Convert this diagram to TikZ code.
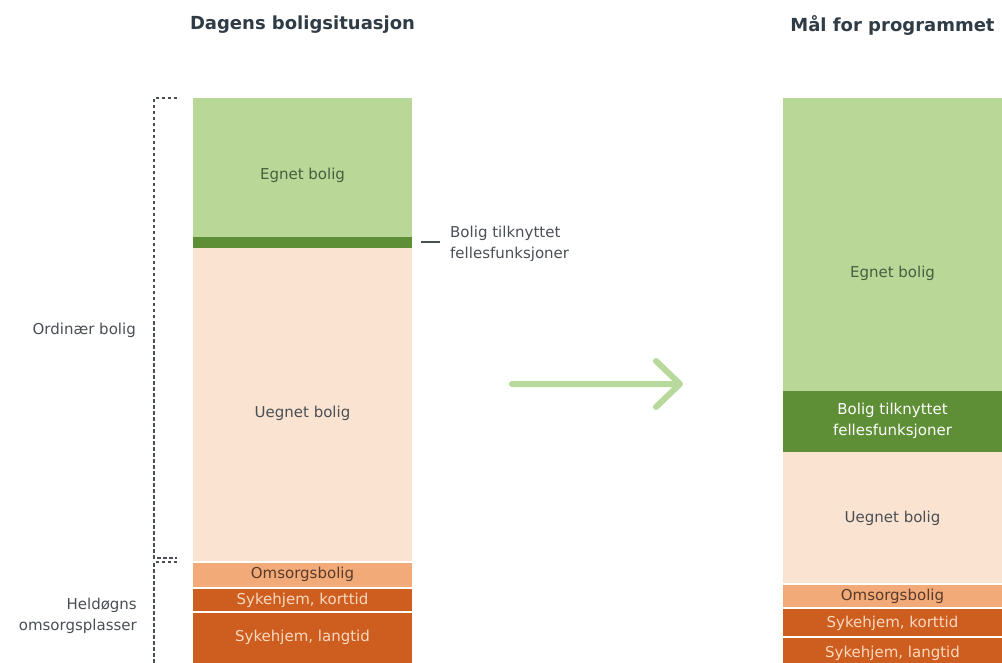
\documentclass[tikz,border=0pt]{standalone}
\usepackage{fontspec}
\setmainfont{DejaVu Sans}
\definecolor{lgreen}{HTML}{B9D897}
\definecolor{dgreen}{HTML}{5E8F36}
\definecolor{peach}{HTML}{FBE3D1}
\definecolor{lorange}{HTML}{F2AB78}
\definecolor{dorange}{HTML}{CE5E1F}
\definecolor{txtgrey}{HTML}{4A4F55}
\definecolor{txtgreen}{HTML}{44603F}
\definecolor{txtbrown}{HTML}{5A3A2A}
\definecolor{ttlgrey}{HTML}{2F3B45}
\definecolor{lpeach}{HTML}{FCD8BF}
\definecolor{arrgreen}{HTML}{B7D99B}
\begin{document}
\begin{tikzpicture}[x=1pt,y=-1pt,
  seglbl/.style={font=\fontsize{15}{20.5}\selectfont,align=center,inner sep=0pt},
  ttl/.style={font=\fontsize{18}{22}\selectfont\bfseries,text=ttlgrey,inner sep=0pt},
  sidelbl/.style={font=\fontsize{15}{21}\selectfont,text=txtgrey,inner sep=0pt},
  brk/.style={draw=txtgrey,line width=1.1pt,dash pattern=on 3.5pt off 2.5pt}]
\useasboundingbox (0,0) rectangle (1002,663);
\pgfmathsetmacro{\kxl}{193}
\pgfmathsetmacro{\kxr}{783}
\pgfmathsetmacro{\kw}{219}
\begin{scope}
\clip (0,0) rectangle (1002,663);
% left column, today
\foreach \ya/\yb/\ylb/\fc/\tc/\lb [count=\i] in {98/237/175/lgreen/txtgreen/{Egnet bolig},248/561/413/peach/txtgrey/{Uegnet bolig},562.5/587/574/lorange/txtbrown/Omsorgsbolig,589/611/600/dorange/lpeach/{Sykehjem, korttid},613/670/637/dorange/lpeach/{Sykehjem, langtid}}{
  \fill[\fc] (\kxl,\ya) rectangle (\kxl+\kw,\yb);
  \node[seglbl,text=\tc] (l\i) at (\kxl+\kw/2,\ylb) {\lb};
}
\fill[dgreen] (\kxl,237) rectangle (\kxl+\kw,248);
\coordinate (lstrip) at (\kxl+\kw+9,242);
% right column, goal
\foreach \ya/\yb/\ylb/\fc/\tc/\lb [count=\i] in {98/391/273/lgreen/txtgreen/{Egnet bolig},391/452/421/dgreen/white/{Bolig tilknyttet\\fellesfunksjoner},452/583/518/peach/txtgrey/{Uegnet bolig},584.5/607/596/lorange/txtbrown/Omsorgsbolig,609/636/623/dorange/lpeach/{Sykehjem, korttid},638/680/653/dorange/lpeach/{Sykehjem, langtid}}{
  \fill[\fc] (\kxr,\ya) rectangle (\kxr+\kw,\yb);
  \node[seglbl,text=\tc] (r\i) at (\kxr+\kw/2,\ylb) {\lb};
}
\end{scope}
% titles
\node[ttl] (tl) at (\kxl+\kw/2,25) {Dagens boligsituasjon};
\node[ttl] (tr) at (\kxr+\kw/2,25) {Mål for programmet};
% side label for the thin strip
\node[sidelbl,anchor=west,align=left] (lbft) at (450,244) {Bolig tilknyttet\\fellesfunksjoner};
\coordinate (lend) at (440,242);
\draw[txtgrey,line width=1.1pt] (lstrip) -- (lend);
% dashed brackets
\draw[brk] (177,98) -- (154,98) -- (154,558) -- (177,558);
\draw[brk] (177,562) -- (154,562) -- (154,670);
\node[sidelbl,anchor=east] (ord) at (136,330) {Ordinær bolig};
\node[sidelbl,anchor=east,align=right] (held) at (137,616) {Heldøgns\\omsorgsplasser};
% arrow between the columns
\coordinate (arrs) at (512,384);
\coordinate (arre) at (680,384);
\draw[arrgreen,line width=6pt,line cap=round,line join=round] (arrs) -- (arre) ++(-24,-23) -- (arre) -- ++(-24,23);
\end{tikzpicture}
\end{document}
